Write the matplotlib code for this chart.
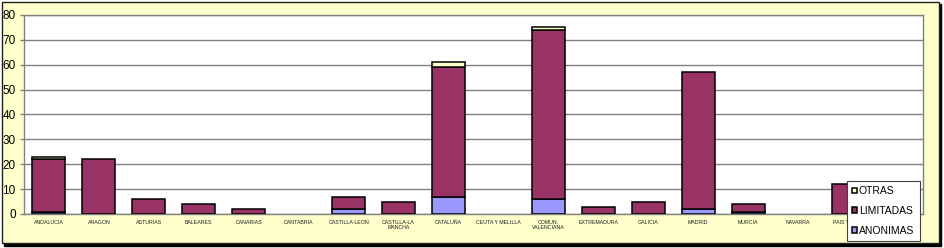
import matplotlib
matplotlib.use("Agg")
import matplotlib.pyplot as plt
from matplotlib.patches import Rectangle
import numpy as np

plt.rcParams['font.family'] = ['Liberation Sans', 'DejaVu Sans']

categories = ["ANDALUCIA", "ARAGON", "ASTURIAS", "BALEARES", "CANARIAS", "CANTABRIA",
              "CASTILLA-LEON", "CASTILLA-LA\nMANCHA", "CATALUÑA", "CEUTA Y MELILLA",
              "COMUN.\nVALENCIANA", "EXTREMADURA", "GALICIA", "MADRID", "MURCIA",
              "NAVARRA", "PAIS VASCO", "LA RIOJA"]
anonimas  = [1, 0, 0, 0, 0, 0, 2, 0, 7, 0, 6, 0, 0, 2, 1, 0, 0, 0]
limitadas = [21, 22, 6, 4, 2, 0, 5, 5, 52, 0, 68, 3, 5, 55, 3, 0, 12, 0]
otras     = [1, 0, 0, 0, 0, 0, 0, 0, 2, 0, 1, 0, 0, 0, 0, 0, 0, 0]
series_names = ["ANONIMAS", "LIMITADAS", "OTRAS"]
colors = ["#9999FF", "#993366", "#FFFFCC"]
yticks = [0, 10, 20, 30, 40, 50, 60, 70, 80]

W, H = 944, 248
fig = plt.figure(figsize=(W / 100, H / 100), dpi=100)
fig.patch.set_facecolor("white")

# chart area border with shadow
fig.patches.append(Rectangle((4 / W, 1 - 246 / H), 937 / W, 242 / H, transform=fig.transFigure,
                             facecolor="black", edgecolor="black", zorder=-2))
fig.patches.append(Rectangle((1.5 / W, 1 - 243 / H), 937 / W, 241 / H, transform=fig.transFigure,
                             facecolor="#FFFFCC", edgecolor="#202020", linewidth=1.0, zorder=-1))

left, right, top, bottom = 24, 923, 15, 214
ax = fig.add_axes([left / W, 1 - bottom / H, (right - left) / W, (bottom - top) / H])
ax.set_facecolor("white")

x = np.arange(len(categories))
base = np.zeros(len(categories))
handles = []
for name, vals, c in zip(series_names, [anonimas, limitadas, otras], colors):
    vals = np.array(vals, dtype=float)
    m = vals > 0
    b = ax.bar(x[m], vals[m], width=0.66, bottom=base[m], color=c, edgecolor="black",
               linewidth=1.1, label=name, zorder=3)
    handles.append(b)
    base += vals

ax.set_xlim(-0.5, len(categories) - 0.5)
ax.set_ylim(0, 80)
ax.set_yticks(yticks)
ax.set_yticklabels([str(v) for v in yticks], fontsize=8.5)
ax.yaxis.grid(True, color="#808080", linewidth=1.0, zorder=0)
ax.set_axisbelow(True)
ax.tick_params(axis="y", length=3, width=1, color="#808080", pad=3)
ax.set_xticks(x)
ax.set_xticklabels(categories, fontsize=3.8, linespacing=1.2, color="#202020")
ax.tick_params(axis="x", length=0, pad=4)
for s in ax.spines.values():
    s.set_color("#808080")
    s.set_linewidth(1.0)

leg = ax.legend(handles[::-1], series_names[::-1], loc="upper left",
                bbox_to_anchor=(847 / W, 1 - 181 / H), bbox_transform=fig.transFigure,
                fontsize=7.5, frameon=True, fancybox=False, framealpha=1,
                edgecolor="#404040", handlelength=0.5, handleheight=0.5,
                handletextpad=0.15, labelspacing=0.95, borderpad=0.5,
                borderaxespad=0)
leg.get_frame().set_linewidth(0.8)
leg.set_zorder(10)

fig.savefig("out.png", dpi=100, facecolor=fig.get_facecolor())
